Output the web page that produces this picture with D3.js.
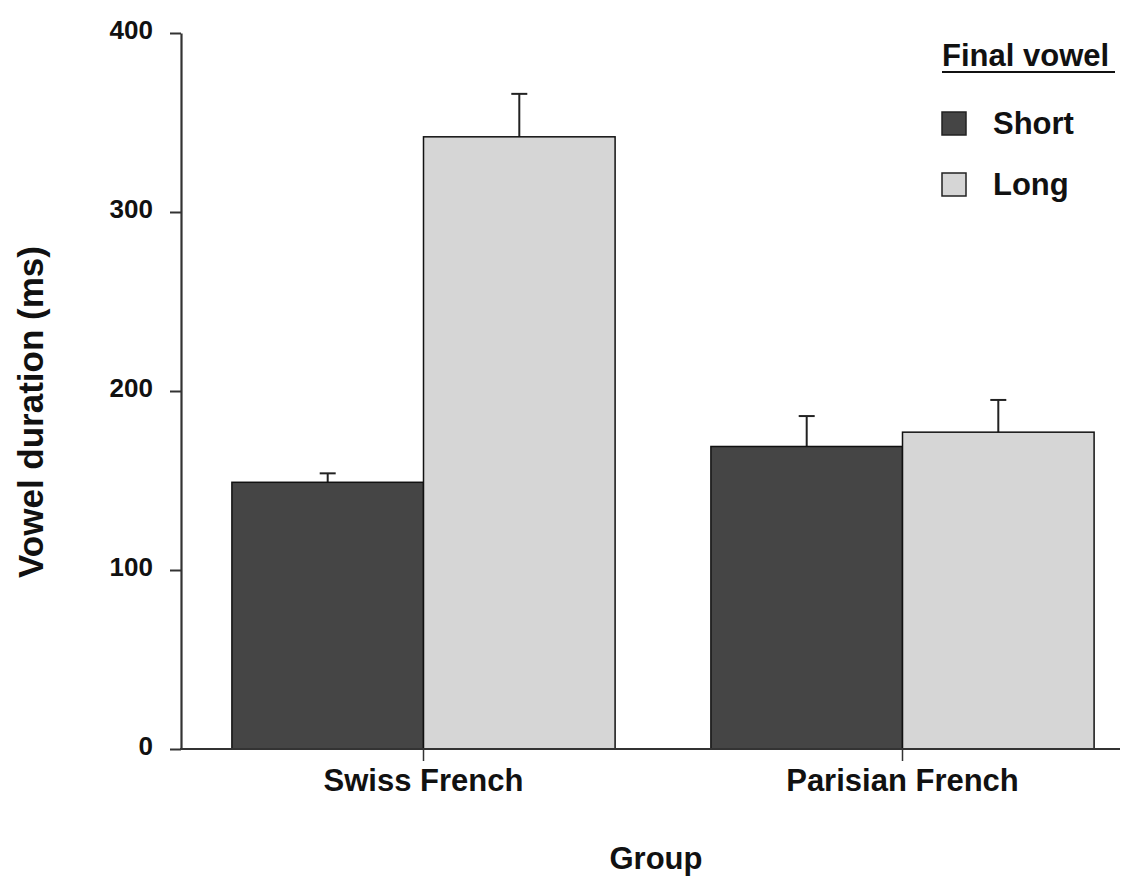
<!DOCTYPE html>
<html>
<head>
<meta charset="utf-8">
<script src="https://cdn.jsdelivr.net/npm/d3@7"></script>
<style>
  body { margin: 0; background: #fff; }
  text { font-family: "Liberation Sans", Arial, sans-serif; font-weight: bold; fill: #111; }
</style>
</head>
<body>
<div id="chart"></div>
<script>
// data
const groups = ["Swiss French", "Parisian French"];
const series = ["Short", "Long"];
const means = [[149, 342], [169, 177]];
const errTops = [[154, 366], [186, 195]];
const yTicks = [0, 100, 200, 300, 400];
const colors = ["#454545", "#d6d6d6"];

const width = 1125, height = 879;
const svg = d3.select('#chart').append('svg')
    .attr('width', width)
    .attr('height', height);

const y = d3.scaleLinear().domain([0, 400]).range([749, 33]);
const x = d3.scaleBand().domain(groups).range([184, 1142])
    .paddingInner(0.2).paddingOuter(0.1);
const xs = d3.scaleBand().domain(series).range([0, x.bandwidth()]);

const rows = [];
groups.forEach((g, gi) => {
    series.forEach((s, si) => {
        rows.push({ g, s, si, v: means[gi][si], e: errTops[gi][si] });
    });
});

// error bars (drawn first, bars cover the lower part)
const eb = svg.append('g').selectAll('g').data(rows).enter().append('g')
    .attr('transform', d => `translate(${x(d.g) + xs(d.s) + xs.bandwidth() / 2}, 0)`);
eb.append('line')
    .attr('y1', d => y(d.v)).attr('y2', d => y(d.e))
    .attr('stroke', '#222').attr('stroke-width', 2);
eb.append('line')
    .attr('x1', -8).attr('x2', 8)
    .attr('y1', d => y(d.e)).attr('y2', d => y(d.e))
    .attr('stroke', '#222').attr('stroke-width', 2);

// bars
svg.append('g').selectAll('rect').data(rows).enter().append('rect')
    .attr('x', d => x(d.g) + xs(d.s))
    .attr('y', d => y(d.v))
    .attr('width', xs.bandwidth())
    .attr('height', d => y(0) - y(d.v))
    .attr('fill', d => colors[d.si])
    .attr('stroke', '#111')
    .attr('stroke-width', 1.5);

// y axis
const yAxis = svg.append('g')
    .attr('transform', 'translate(181, 0)')
    .call(d3.axisLeft(y).tickValues(yTicks).tickSize(11).tickPadding(17).tickSizeOuter(0));
yAxis.select('.domain').attr('stroke', '#333').attr('stroke-width', 2.2);
yAxis.selectAll('.tick line').attr('stroke', '#333').attr('stroke-width', 2);
yAxis.selectAll('.tick text')
    .attr('dy', '0.2em')
    .style('font-size', '26px').style('font-family', '"Liberation Sans", Arial, sans-serif')
    .style('font-weight', 'bold').attr('fill', '#111');

// x axis
svg.append('line')
    .attr('x1', 180).attr('x2', 1120)
    .attr('y1', y(0)).attr('y2', y(0))
    .attr('stroke', '#333').attr('stroke-width', 2.2);
const xAxis = svg.append('g')
    .attr('transform', `translate(0, ${y(0)})`)
    .call(d3.axisBottom(x).tickSize(12).tickPadding(14).tickSizeOuter(0));
xAxis.select('.domain').remove();
xAxis.selectAll('.tick line').attr('stroke', '#333').attr('stroke-width', 1.5);
xAxis.selectAll('.tick text')
    .attr('dy', '0.5em')
    .style('font-size', '31px').style('font-family', '"Liberation Sans", Arial, sans-serif')
    .style('font-weight', 'bold').attr('fill', '#111');

// axis titles
svg.append('text')
    .attr('x', 656).attr('y', 869)
    .attr('text-anchor', 'middle')
    .style('font-size', '31px')
    .text('Group');
svg.append('text')
    .attr('transform', 'translate(43, 412) rotate(-90)')
    .attr('text-anchor', 'middle')
    .style('font-size', '35px')
    .text('Vowel duration (ms)');

// legend
const legend = svg.append('g');
legend.append('text')
    .attr('x', 942).attr('y', 66)
    .style('font-size', '31px')
    .text('Final vowel');
legend.append('line')
    .attr('x1', 942).attr('x2', 1115)
    .attr('y1', 72).attr('y2', 72)
    .attr('stroke', '#111').attr('stroke-width', 2);
const li = legend.selectAll('g.item').data(series).enter().append('g')
    .attr('class', 'item')
    .attr('transform', (d, i) => `translate(942, ${112 + i * 61})`);
li.append('rect')
    .attr('width', 24).attr('height', 23)
    .attr('fill', (d, i) => colors[i])
    .attr('stroke', '#222').attr('stroke-width', 1.5);
li.append('text')
    .attr('x', 51).attr('y', 22)
    .style('font-size', '31px')
    .text(d => d);
</script>
</body>
</html>
